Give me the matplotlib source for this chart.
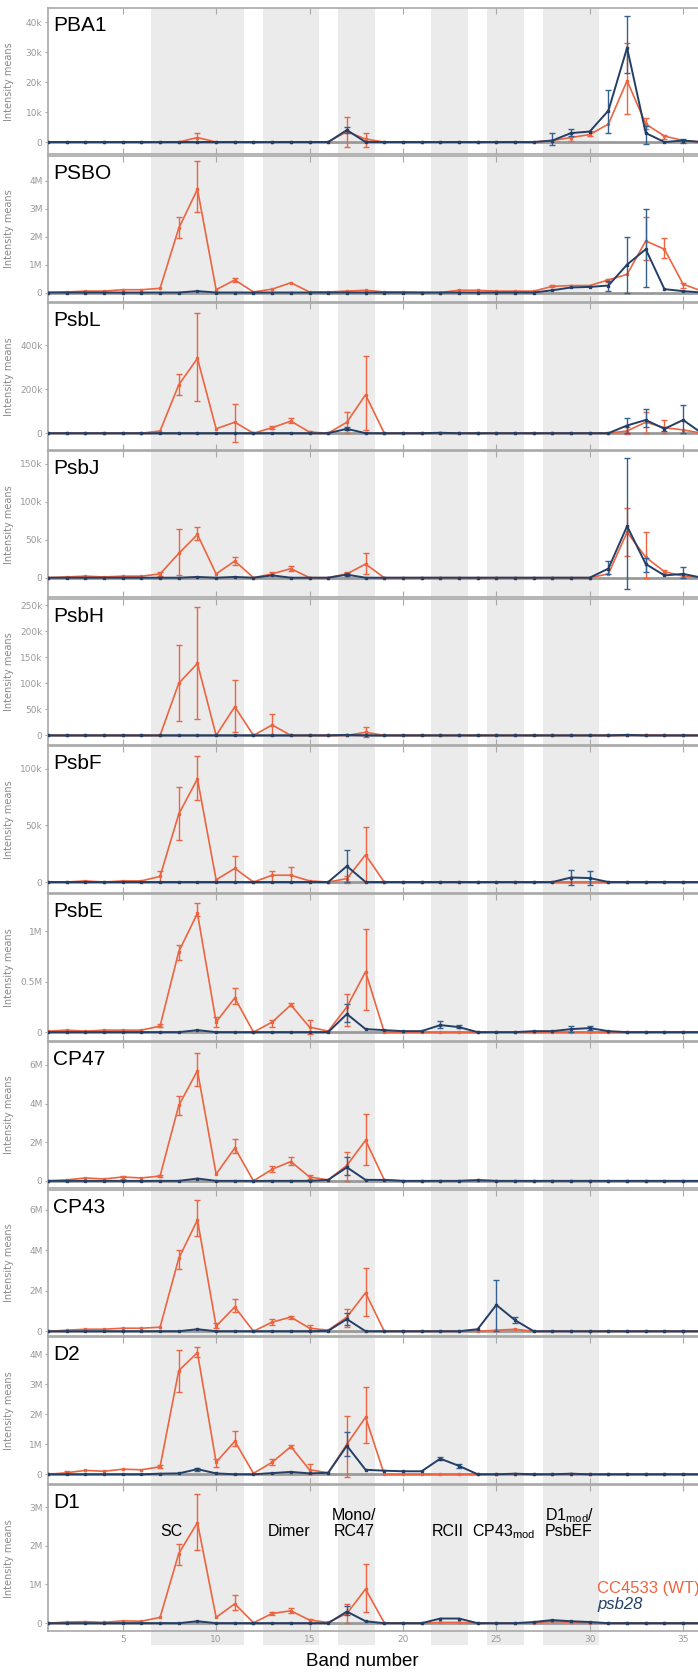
import numpy as np
import matplotlib
matplotlib.use("Agg")
import matplotlib.pyplot as plt  # noqa: E402
from matplotlib.ticker import FuncFormatter  # noqa: E402

plt.rcParams["mathtext.default"] = "regular"

BANDS = np.arange(1, 37)
PROTEINS = ["PBA1", "PSBO", "PsbL", "PsbJ", "PsbH", "PsbF", "PsbE", "CP47", "CP43", "D2", "D1"]
UNITS = ["k", "M", "k", "k", "k", "k", "M", "M", "M", "M", "M"]
YLIMS = [(-4.1, 44.8), (-0.34, 4.9), (-75, 590), (-26, 167), (-18.6, 262), (-9.5, 119.6),
         (-0.083, 1.37), (-0.38, 7.19), (-0.23, 7.0), (-0.31, 4.56), (-0.21, 3.57)]
YTICKS = [[0, 10, 20, 30, 40], [0, 1, 2, 3, 4], [0, 200, 400], [0, 50, 100, 150],
          [0, 50, 100, 150, 200, 250], [0, 50, 100], [0, 0.5, 1], [0, 2, 4, 6],
          [0, 2, 4, 6], [0, 1, 2, 3, 4], [0, 1, 2, 3]]


def sparse(d):
    v = [0.0] * 36
    for b, val in d.items():
        v[b - 1] = val
    return v


# CC4533 (WT) means, per band 1..36 (in k or M, see UNITS)
WT = {
    "PBA1": sparse({9: 1.5, 17: 3.5, 18: 1, 28: 0.5, 29: 1.5, 30: 2.5, 31: 6, 32: 20.5, 33: 6,
                    34: 2, 35: 0.5}),
    "PSBO": [0, 0.02, 0.05, 0.05, 0.1, 0.1, 0.15, 2.3, 3.7, 0.1, 0.45, 0.02, 0.12, 0.35, 0.02,
             0.02, 0.05, 0.08, 0.02, 0.02, 0, 0, 0.08, 0.08, 0.05, 0.05, 0.05, 0.22, 0.25, 0.25,
             0.45, 0.65, 1.85, 1.55, 0.3, 0.05],
    "PsbL": sparse({7: 10, 8: 220, 9: 340, 10: 20, 11: 50, 13: 25, 14: 55, 15: 5, 17: 50,
                    18: 175, 32: 10, 33: 50, 34: 25, 35: 15}),
    "PsbJ": sparse({2: 1, 3: 2, 4: 1, 5: 2, 6: 2, 7: 5, 8: 32, 9: 57, 10: 5, 11: 22, 13: 5,
                    14: 12, 17: 5, 18: 18, 31: 5, 32: 60, 33: 27, 34: 8, 35: 2}),
    "PsbH": sparse({8: 100, 9: 138, 11: 55, 13: 20, 18: 6, 33: 1}),
    "PsbF": sparse({3: 1, 5: 1, 6: 1, 7: 5, 8: 60, 9: 91, 10: 2, 11: 12, 13: 6, 14: 6, 15: 1,
                    17: 3, 18: 24}),
    "PsbE": sparse({1: 0.01, 2: 0.02, 3: 0.01, 4: 0.02, 5: 0.02, 6: 0.02, 7: 0.06, 8: 0.8,
                    9: 1.18, 10: 0.1, 11: 0.34, 13: 0.1, 14: 0.27, 15: 0.05, 16: 0.01, 17: 0.25,
                    18: 0.6}),
    "CP47": sparse({2: 0.05, 3: 0.15, 4: 0.1, 5: 0.2, 6: 0.15, 7: 0.25, 8: 3.9, 9: 5.7,
                    10: 0.35, 11: 1.7, 13: 0.6, 14: 1.0, 15: 0.2, 16: 0.05, 17: 0.8, 18: 2.1,
                    19: 0.05, 24: 0.05}),
    "CP43": sparse({2: 0.05, 3: 0.1, 4: 0.1, 5: 0.15, 6: 0.15, 7: 0.2, 8: 3.6, 9: 5.5,
                    10: 0.25, 11: 1.2, 13: 0.45, 14: 0.7, 15: 0.15, 16: 0.05, 17: 0.7, 18: 1.9,
                    25: 0.05, 26: 0.1}),
    "D2": sparse({2: 0.05, 3: 0.13, 4: 0.1, 5: 0.17, 6: 0.15, 7: 0.25, 8: 3.45, 9: 4.05,
                  10: 0.4, 11: 1.1, 12: 0.03, 13: 0.4, 14: 0.92, 15: 0.15, 16: 0.05, 17: 1.0,
                  18: 1.9}),
    "D1": sparse({2: 0.03, 3: 0.04, 4: 0.02, 5: 0.06, 6: 0.05, 7: 0.15, 8: 1.8, 9: 2.6,
                  10: 0.15, 11: 0.5, 12: 0.01, 13: 0.25, 14: 0.32, 15: 0.08, 16: 0.02, 17: 0.25,
                  18: 0.88, 19: 0.01, 22: 0.02, 23: 0.02, 28: 0.05, 29: 0.02}),
}
# psb28 means
KO = {
    "PBA1": sparse({17: 4, 28: 0.5, 29: 3, 30: 3.5, 31: 10.5, 32: 31.5, 33: 3, 35: 0.5}),
    "PSBO": sparse({9: 0.05, 28: 0.08, 29: 0.18, 30: 0.2, 31: 0.25, 32: 1.0, 33: 1.55,
                    34: 0.12, 35: 0.05}),
    "PsbL": sparse({17: 20, 22: 2, 32: 35, 33: 60, 34: 20, 35: 60}),
    "PsbJ": sparse({9: 1, 11: 1, 13: 3, 17: 4, 31: 12, 32: 68, 33: 18, 34: 3, 35: 5}),
    "PsbH": sparse({17: 1, 32: 1}),
    "PsbF": sparse({17: 14, 29: 4, 30: 3.5}),
    "PsbE": sparse({9: 0.02, 17: 0.18, 18: 0.03, 19: 0.02, 20: 0.01, 21: 0.01, 22: 0.07,
                    23: 0.05, 27: 0.01, 28: 0.01, 29: 0.03, 30: 0.04, 31: 0.01}),
    "CP47": sparse({9: 0.12, 16: 0.05, 17: 0.7, 18: 0.05, 19: 0.05, 24: 0.03}),
    "CP43": sparse({9: 0.1, 16: 0.02, 17: 0.6, 24: 0.1, 25: 1.3, 26: 0.55}),
    "D2": sparse({7: 0.02, 8: 0.03, 9: 0.17, 10: 0.03, 13: 0.04, 14: 0.08, 15: 0.03, 16: 0.05,
                  17: 0.95, 18: 0.15, 19: 0.12, 20: 0.1, 21: 0.1, 22: 0.52, 23: 0.28, 26: 0.02,
                  29: 0.02}),
    "D1": sparse({9: 0.05, 17: 0.3, 18: 0.05, 22: 0.12, 23: 0.12, 27: 0.03, 28: 0.08,
                  29: 0.05, 30: 0.03}),
}
# error bar extents (low, high) at selected bands
WT_ERR = {
    "PBA1": {9: (0, 3), 17: (-1.5, 8.5), 18: (-1.5, 3), 29: (0.5, 3), 30: (2, 3.8),
             32: (9.5, 33), 33: (4.5, 8), 34: (1, 2.5)},
    "PSBO": {8: (1.95, 2.7), 9: (2.9, 4.7), 11: (0.38, 0.52), 28: (0.18, 0.27), 31: (0.38, 0.5),
             33: (1.15, 2.7), 34: (1.25, 1.95), 35: (0.15, 0.35)},
    "PsbL": {8: (175, 270), 9: (145, 545), 11: (-40, 135), 13: (20, 35), 14: (45, 70),
             15: (0, 12), 17: (0, 95), 18: (15, 350), 32: (-5, 30), 33: (0, 95), 34: (0, 60)},
    "PsbJ": {7: (2, 8), 8: (3, 64), 9: (50, 67), 11: (17, 27), 13: (3, 7), 14: (9, 15),
             17: (3, 8), 18: (5, 33), 32: (28, 92), 33: (0, 60), 34: (6, 10)},
    "PsbH": {8: (27, 173), 9: (32, 246), 11: (6, 107), 13: (0, 42), 18: (-3, 17)},
    "PsbF": {7: (0, 10), 8: (37, 84), 9: (72, 111), 11: (0, 23), 13: (0, 10), 14: (0, 13),
             17: (-1, 5), 18: (0, 49)},
    "PsbE": {7: (0.05, 0.08), 8: (0.72, 0.87), 9: (1.15, 1.28), 10: (0.05, 0.15),
             11: (0.28, 0.44), 13: (0.05, 0.12), 14: (0.26, 0.29), 15: (-0.02, 0.12),
             17: (0.06, 0.38), 18: (0.22, 1.02)},
    "CP47": {5: (0.12, 0.25), 7: (0.2, 0.3), 8: (3.4, 4.4), 9: (4.9, 6.6), 11: (1.45, 2.15),
             13: (0.45, 0.75), 14: (0.8, 1.25), 15: (0.1, 0.3), 17: (0, 1.5), 18: (0.8, 3.45)},
    "CP43": {8: (3.1, 4.0), 9: (4.7, 6.5), 10: (0.15, 0.4), 11: (0.95, 1.6), 13: (0.3, 0.6),
             14: (0.62, 0.75), 15: (0, 0.3), 17: (0.2, 1.1), 18: (0.75, 3.15)},
    "D2": {2: (0, 0.12), 7: (0.2, 0.3), 8: (2.75, 4.15), 9: (3.9, 4.25), 10: (0.25, 0.5),
           11: (0.95, 1.45), 13: (0.3, 0.5), 14: (0.88, 0.96), 15: (0, 0.35), 17: (-0.1, 1.95),
           18: (1.05, 2.9)},
    "D1": {8: (1.5, 2.05), 9: (1.9, 3.35), 11: (0.35, 0.72), 13: (0.2, 0.3), 14: (0.25, 0.4),
           15: (0, 0.12), 17: (0, 0.5), 18: (0.3, 1.52)},
}
KO_ERR = {
    "PBA1": {17: (3, 5), 28: (-1, 3), 29: (2, 4.5), 31: (3, 17.5), 32: (23, 42),
             33: (-0.5, 5.5), 35: (-0.3, 1)},
    "PSBO": {31: (0.05, 0.4), 32: (0, 2.0), 33: (0.2, 3.0)},
    "PsbL": {17: (15, 28), 32: (0, 70), 33: (30, 110), 34: (10, 30), 35: (0, 130)},
    "PsbJ": {17: (2, 6), 31: (5, 22), 32: (-15, 158), 33: (8, 26), 35: (0, 14)},
    "PsbH": {},
    "PsbF": {17: (0, 28), 29: (-3, 11), 30: (-3, 10)},
    "PsbE": {17: (0.1, 0.28), 22: (0.04, 0.11), 23: (0.04, 0.07), 29: (0, 0.06),
             30: (0.02, 0.06)},
    "CP47": {17: (0.3, 1.25)},
    "CP43": {17: (0.3, 0.9), 25: (0, 2.55), 26: (0.4, 0.7)},
    "D2": {9: (0.12, 0.2), 17: (0.6, 1.4), 22: (0.48, 0.56), 23: (0.22, 0.33)},
    "D1": {17: (0.2, 0.45)},
}
SPANS = [(6.5, 11.5), (12.5, 15.5), (16.5, 18.5), (21.5, 23.5), (24.5, 26.5), (27.5, 30.5)]
REGION_LABELS = [("SC", 7.6, 2.36), ("Dimer", 13.9, 2.36), ("Mono/", 17.4, 2.78),
                 ("RC47", 17.4, 2.36), ("RCII", 22.4, 2.36), ("CP43$_{mod}$", 25.4, 2.36),
                 ("D1$_{mod}$/", 28.9, 2.78), ("PsbEF", 28.9, 2.36)]

ORANGE = "#ec6440"
BLUE = "#243f66"
BLUE_ERR = "#34618f"
GREY = "#a8a8a8"
SHADE = "#ebebeb"
SANS = ["Liberation Sans", "DejaVu Sans"]

W, H = 698, 1673
fig = plt.figure(figsize=(W / 100, H / 100), dpi=100)
left_px, top0, step, ph = 48, 8, 147.7, 146.3


def draw_err(ax, vals, err, color):
    if not err:
        return
    bs = sorted(err)
    y = np.array([vals[b - 1] for b in bs])
    lo = np.array([err[b][0] for b in bs])
    hi = np.array([err[b][1] for b in bs])
    ax.errorbar(bs, y, yerr=[np.clip(y - lo, 0, None), np.clip(hi - y, 0, None)], fmt="none",
                ecolor=color, elinewidth=1.0, capsize=2.2, capthick=1.0, zorder=4)


for i, name in enumerate(PROTEINS):
    top = top0 + i * step
    ax = fig.add_axes([left_px / W, 1 - (top + ph) / H, (W - left_px + 1) / W, ph / H])
    last = i == len(PROTEINS) - 1
    for a, b in SPANS:
        ax.axvspan(a, b, ymin=-0.095 if last else 0, ymax=1, color=SHADE, lw=0, zorder=0,
                   clip_on=not last)
    ax.axhline(0, color="#9a9a9a", lw=2.0, zorder=1)
    ax.plot(BANDS, WT[name], "-s", color=ORANGE, lw=1.2, ms=2, zorder=3)
    draw_err(ax, WT[name], WT_ERR[name], ORANGE)
    ax.plot(BANDS, KO[name], "-s", color=BLUE, lw=1.4, ms=2, zorder=5)
    draw_err(ax, KO[name], KO_ERR[name], BLUE_ERR)

    ax.set_xlim(1, 35.85)
    ax.set_ylim(*YLIMS[i])
    ax.set_yticks(YTICKS[i])
    unit = UNITS[i]
    ax.yaxis.set_major_formatter(FuncFormatter(lambda v, p, u=unit: "0" if v == 0 else f"{v:g}{u}"))
    ax.set_xticks([5, 10, 15, 20, 25, 30, 35])
    ax.tick_params(axis="x", direction="in", top=True, bottom=True, length=4, color=GREY,
                   labelbottom=last, labelsize=6.5, labelcolor="#999999", pad=3)
    ax.tick_params(axis="y", direction="out", right=True, length=2.5, color=GREY,
                   labelsize=6.5, labelcolor="#999999", pad=1.5)
    for s in ax.spines.values():
        s.set_color(GREY)
        s.set_linewidth(1.2)
    ax.set_ylabel("Intensity means", fontsize=7, color="#8a8a8a")
    ax.yaxis.set_label_coords(-(left_px - 14) / (W - left_px), 0.5)
    ax.text(0.008, 1 - 8 / ph, name, transform=ax.transAxes, ha="left", va="top",
            fontsize=15, family=SANS, color="black", zorder=6)
    if last:
        for txt, x, y in REGION_LABELS:
            ax.text(x, y, txt, ha="center", va="center", fontsize=11.5, family=SANS, zorder=6)

fig.text(597 / W, 1 - 1588 / H, "CC4533 (WT)", color=ORANGE, fontsize=12, family=SANS,
         ha="left", va="center")
fig.text(597 / W, 1 - 1604 / H, "psb28", color=BLUE, fontsize=12, family=SANS,
         style="italic", ha="left", va="center")
fig.text(362 / W, 1 - 1661 / H, "Band number", fontsize=13.5, family=SANS,
         ha="center", va="center")

fig.savefig("out.png", dpi=100)
